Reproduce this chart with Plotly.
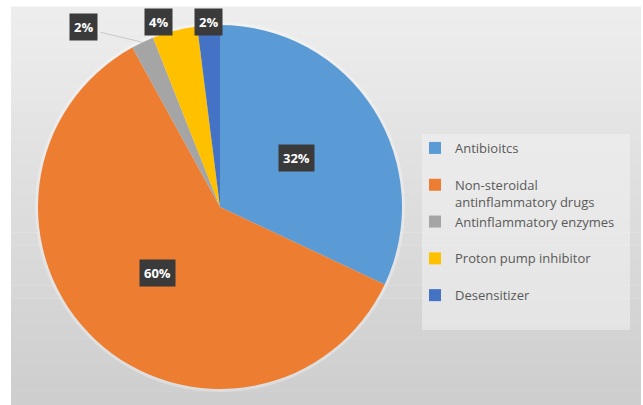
import math
import plotly.graph_objects as go

# ---- data ----
categories = ["Antibioitcs", "Non-steroidal antinflammatory drugs", "Antinflammatory enzymes",
              "Proton pump inhibitor", "Desensitizer"]
legend_labels = ["Antibioitcs<br> ", "Non-steroidal<br>antinflammatory drugs",
                 "Antinflammatory enzymes<br> ", "Proton pump inhibitor<br> ", "Desensitizer"]
values = [32, 60, 2, 4, 2]
colors = ["#5B9BD5", "#ED7D31", "#A5A5A5", "#FFC000", "#4472C4"]

W, H = 643, 405
CX, CY, R = 220, 207, 182  # pie centre / radius in px

fig = go.Figure()
fig.add_trace(go.Pie(
    labels=legend_labels, values=values, sort=False, direction="clockwise", rotation=0,
    marker=dict(colors=colors, line=dict(width=0)),
    textinfo="none", hoverinfo="label+percent",
    domain=dict(x=[(CX - R) / W, (CX + R) / W], y=[1 - (CY + R) / H, 1 - (CY - R) / H]),
    showlegend=True,
))

# background gradient bands (chart area)
shapes = []
n = 30
x0p, x1p, top_px = 11 / W, 641 / W, 7
c_top, c_bot = (237, 237, 237), (206, 206, 206)
for i in range(n):
    t = i / (n - 1)
    c = tuple(int(round(c_top[k] + (c_bot[k] - c_top[k]) * t)) for k in range(3))
    ya = 1 - (top_px + (H - top_px) * i / n) / H
    yb = 1 - (top_px + (H - top_px) * (i + 1) / n) / H
    shapes.append(dict(type="rect", xref="paper", yref="paper", x0=x0p, x1=x1p, y0=yb, y1=ya + 0.001,
                       fillcolor="rgb(%d,%d,%d)" % c, line=dict(width=0), layer="below"))
# soft halo behind pie
shapes.append(dict(type="circle", xref="paper", yref="paper",
                   x0=(CX - R - 3) / W, x1=(CX + R + 3) / W, y0=1 - (CY + R + 3) / H, y1=1 - (CY - R - 3) / H,
                   fillcolor="rgba(255,255,255,0.3)", line=dict(width=0), layer="below"))
# legend box
shapes.append(dict(type="rect", xref="paper", yref="paper", x0=422 / W, x1=630 / W,
                   y0=1 - 330 / H, y1=1 - 134 / H, fillcolor="rgba(242,242,242,0.55)",
                   line=dict(width=0), layer="below"))

# data labels computed from slice angles
radial = [0.5, 0.5, 1.24, 1.07, 1.02]
ang_off = [0, 0, -12, -4, 0]
total = sum(values)
annotations = []
cum = 0
for i, v in enumerate(values):
    mid = (cum + v / 2) / total * 2 * math.pi
    cum += v
    a = mid + math.radians(ang_off[i])
    px = CX + radial[i] * R * math.sin(a)
    py = CY - radial[i] * R * math.cos(a)
    annotations.append(dict(x=px / W, y=1 - py / H, xref="paper", yref="paper",
                            xanchor="center", yanchor="middle",
                            text="<b>%d%%</b>" % round(v / total * 100), showarrow=False,
                            font=dict(color="white", size=13, family="Open Sans"),
                            bgcolor="#3a3a3a", borderpad=4))
    if i == 2:
        ex = CX + 1.0 * R * math.sin(mid)
        ey = CY - 1.0 * R * math.cos(mid)
        shapes.append(dict(type="line", xref="paper", yref="paper",
                           x0=(px + 17) / W, y0=1 - (py + 5) / H, x1=ex / W, y1=1 - ey / H,
                           line=dict(color="#c8c8c8", width=1)))

fig.update_layout(
    width=W, height=H, margin=dict(l=0, r=0, t=0, b=0),
    paper_bgcolor="white", plot_bgcolor="white",
    shapes=shapes, annotations=annotations,
    legend=dict(x=415 / W, y=1 - 133 / H, xanchor="left", yanchor="top", valign="top",
                bgcolor="rgba(0,0,0,0)", font=dict(size=13, color="#595959", family="Open Sans"),
                itemwidth=30, tracegroupgap=0),
)
fig.write_html("out.html")
